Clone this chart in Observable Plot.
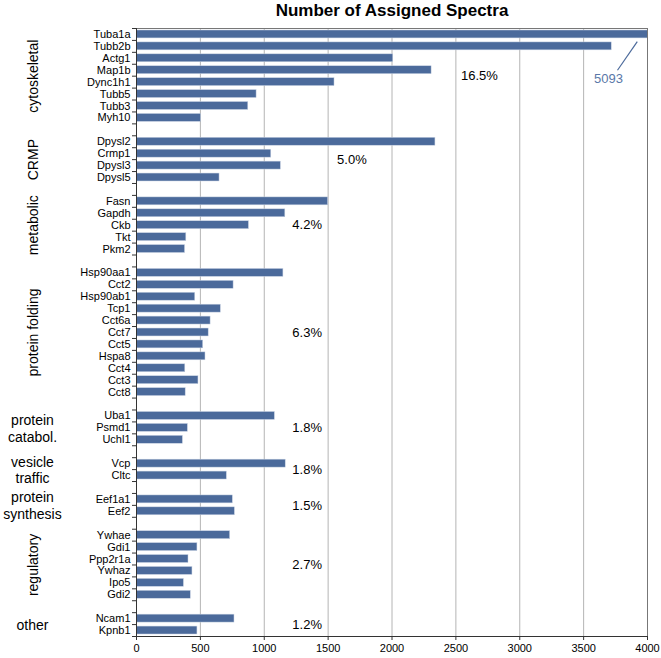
<!DOCTYPE html>
<html><head><meta charset="utf-8">
<script src="https://cdn.jsdelivr.net/npm/d3@7"></script>
<script src="https://cdn.jsdelivr.net/npm/@observablehq/plot@0.6"></script>
<style>body{margin:0;background:#fff;font-family:"Liberation Sans",Arial,sans-serif}</style>
</head><body><div id="chart"></div>
<script>
const groups = ["cytoskeletal","CRMP","metabolic","protein folding","protein\ncatabol.","vesicle\ntraffic","protein\nsynthesis","regulatory","other"];
const groupRotated = [true,true,true,true,false,false,false,true,false];
const groupPercents = ["16.5%","5.0%","4.2%","6.3%","1.8%","1.8%","1.5%","2.7%","1.2%"];
const percentX = [2540,1570,1220,1220,1220,1220,1220,1220,1220];

const proteins = ["Tuba1a","Tubb2b","Actg1","Map1b","Dync1h1","Tubb5","Tubb3","Myh10",
  "Dpysl2","Crmp1","Dpysl3","Dpysl5",
  "Fasn","Gapdh","Ckb","Tkt","Pkm2",
  "Hsp90aa1","Cct2","Hsp90ab1","Tcp1","Cct6a","Cct7","Cct5","Hspa8","Cct4","Cct3","Cct8",
  "Uba1","Psmd1","Uchl1",
  "Vcp","Cltc",
  "Eef1a1","Eef2",
  "Ywhae","Gdi1","Ppp2r1a","Ywhaz","Ipo5","Gdi2",
  "Ncam1","Kpnb1"];
const proteinGroup = [0,0,0,0,0,0,0,0, 1,1,1,1, 2,2,2,2,2, 3,3,3,3,3,3,3,3,3,3,3, 4,4,4, 5,5, 6,6, 7,7,7,7,7,7, 8,8];
const spectra = [5093,3720,2010,2310,1550,940,875,505,
  2340,1055,1130,650,
  1500,1165,880,390,380,
  1150,760,460,660,580,565,522,540,382,485,385,
  1083,402,363,
  1168,707,
  754,770,
  733,477,407,438,371,425,
  767,477];
const xTicks = [0,500,1000,1500,2000,2500,3000,3500,4000];
const xMax = 4000;
const title = "Number of Assigned Spectra";
const annotationValue = 5093;

// build row layout: a blank row between groups
const rows = [];
const groupRows = groups.map(() => []);
let r = 0;
proteins.forEach((p, i) => {
  if (i > 0 && proteinGroup[i] !== proteinGroup[i - 1]) r++;
  rows.push({name: p, value: spectra[i], row: r, group: proteinGroup[i]});
  groupRows[proteinGroup[i]].push(r);
  r++;
});
const nRows = r;
const groupData = groups.map((g, i) => ({
  label: g,
  rotate: groupRotated[i] ? -90 : 0,
  pct: groupPercents[i],
  px: percentX[i],
  y: (d3.min(groupRows[i]) + d3.max(groupRows[i]) + 1) / 2
}));
const annotation = [{x1: 3920, y1: 1.1, x2: 3765, y2: 3.5, tx: 3695, ty: 4.2, text: String(annotationValue)}];

const barColor = "#4b6a9b";

const chart = Plot.plot({
  width: 661,
  height: 658,
  marginLeft: 136,
  marginRight: 14,
  marginTop: 28,
  marginBottom: 22,
  style: {fontFamily: "'Liberation Sans', Arial, sans-serif", background: "#fff", color: "#000"},
  x: {domain: [0, xMax], ticks: xTicks},
  y: {type: "linear", domain: [0, nRows], reverse: true},
  marks: [
    Plot.ruleX(xTicks.filter(v => v > 0 && v < xMax), {stroke: "#b4b4b4", strokeWidth: 1}),
    Plot.rect(rows, {x1: 0, x2: "value", y1: "row", y2: d => d.row + 1, insetTop: 2, insetBottom: 2, fill: barColor, stroke: "#c9d3e3", strokeWidth: 0.5, clip: true}),
    Plot.frame({stroke: "#777"}),
    Plot.ruleX([0], {stroke: "#333"}),
    Plot.ruleY([nRows], {stroke: "#333"}),
    Plot.axisY({ticks: d3.range(0, nRows + 1), tickFormat: () => "", tickSize: 4, stroke: "#333"}),
    Plot.axisX({ticks: xTicks, tickFormat: d => String(d), tickSize: 4, tickPadding: 4, fontSize: 11, label: null, stroke: "#333"}),
    Plot.text(rows, {frameAnchor: "left", y: d => d.row + 0.5, text: "name", textAnchor: "end", dx: -6, fontSize: 11, fill: "#000"}),
    Plot.text(groupData, {frameAnchor: "left", y: "y", text: "label", rotate: "rotate", textAnchor: "middle", dx: -104, fontSize: 14, lineHeight: 1.2, fill: "#000"}),
    Plot.text(groupData, {x: "px", y: "y", text: "pct", textAnchor: "start", fontSize: 13, fill: "#000"}),
    Plot.link(annotation, {x1: "x1", y1: "y1", x2: "x2", y2: "y2", stroke: "#4b6a9b", strokeWidth: 1.2}),
    Plot.text(annotation, {x: "tx", y: "ty", text: "text", fontSize: 13, fill: "#5a78a8"}),
    Plot.text([title], {frameAnchor: "top", text: d => d, fontSize: 17, fontWeight: "bold", lineAnchor: "bottom", dy: -13, fill: "#000"})
  ]
});
document.getElementById("chart").appendChild(chart);
</script>
</body></html>
